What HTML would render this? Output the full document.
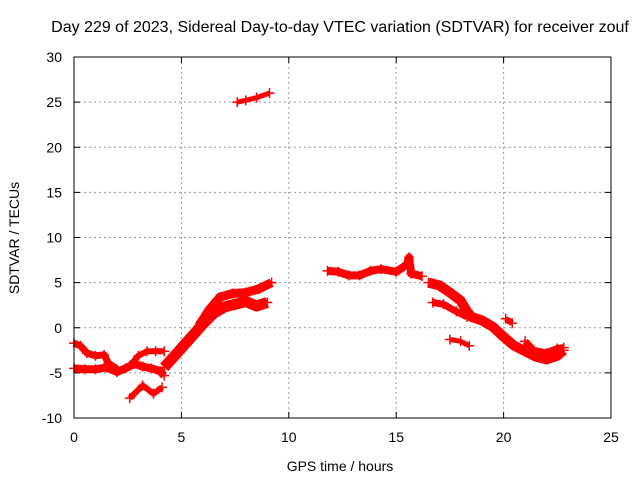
<!DOCTYPE html>
<html><head><meta charset="utf-8"><style>
body{margin:0;background:#fff}
svg{display:block;font-family:"Liberation Sans",sans-serif}
</style></head><body>
<svg id="chart" width="640" height="480">
<rect width="640" height="480" fill="#fff"/>
<text x="340" y="32" font-size="16" text-anchor="middle">Day 229 of 2023, Sidereal Day-to-day VTEC variation (SDTVAR) for receiver zouf</text>
<g id="grid"></g><g id="ticks"></g><g id="series"></g>
<rect x="74" y="57" width="537" height="361" fill="none" stroke="#000" stroke-width="1"/>
<text x="340" y="471" font-size="14" text-anchor="middle">GPS time / hours</text>
<text transform="translate(19,238) rotate(-90)" font-size="14" text-anchor="middle">SDTVAR / TECUs</text>
</svg>
<script>
const xTicks=[0,5,10,15,20,25];
const yTicks=[-10,-5,0,5,10,15,20,25,30];
const trackA=[[0,-4.5],[0.5,-4.6],[1,-4.6],[1.5,-4.4],[2,-4.9],[2.4,-4.5],[2.8,-4.0],[3.2,-4.3],[3.6,-4.5],[4,-4.8],[4.2,-5.3]];
const trackB=[[0,-1.7],[0.3,-2.0],[0.6,-2.8],[1,-3.1],[1.4,-3.0],[1.6,-3.9],[2,-4.6]];
const trackC=[[2.6,-4.2],[3.0,-3.1],[3.4,-2.6],[3.8,-2.6],[4.2,-2.6]];
const trackD=[[2.6,-7.8],[3.2,-6.4],[3.7,-7.3],[4.1,-6.6]];
const trackE=[[4.2,-4.4],[4.8,-2.8],[5.4,-1.2],[6,0.4],[6.5,1.6],[7,2.3],[7.5,2.6],[8,2.9],[8.5,2.4],[9,2.8]];
const trackF=[[5.8,0.2],[6.3,2.0],[6.8,3.4],[7.4,3.8],[8,3.9],[8.6,4.3],[9.2,5.0]];
const trackG=[[7.6,25],[8,25.2],[8.5,25.5],[9.1,26]];
const trackH=[[11.8,6.3],[12.3,6.2],[12.8,5.8],[13.3,5.8],[13.8,6.3],[14.3,6.5],[15,6.2],[15.5,7.0],[15.6,7.8],[15.7,6.0],[16.2,5.7]];
const trackI=[[16.5,5],[17,4.7],[17.5,3.9],[18,3.0],[18.3,1.8],[18.5,1.2],[19,0.8],[19.5,0.1],[20,-1],[20.5,-2],[21,-2.6],[21.5,-3.2],[22,-3.5],[22.5,-3.1],[22.8,-2.5]];
const trackJ=[[16.7,2.8],[17.2,2.6],[17.8,1.8],[18.3,1.2]];
const trackK=[[17.5,-1.3],[18,-1.5],[18.4,-2.0]];
const trackL=[[20.1,1.0],[20.4,0.5]];
const trackM=[[21,-1.5],[21.4,-2.5],[22,-2.8],[22.5,-2.3],[22.8,-2.2]];
const tracks=[trackA,trackB,trackC,trackD,trackE,trackF,trackG,trackH,trackI,trackJ,trackK,trackL,trackM];
const widths=[8,7,6,6,11,9,5,8,10,7,5,6,7];
const X=h=>74+h*537/25, Y=v=>418-(v+10)*361/40;
const NS="http://www.w3.org/2000/svg";
function mk(t,a,p){const e=document.createElementNS(NS,t);for(const k in a)e.setAttribute(k,a[k]);p.appendChild(e);return e;}
const grid=document.getElementById('grid'),ticks=document.getElementById('ticks'),ser=document.getElementById('series');
xTicks.forEach(t=>{const x=X(t);
 if(t>0&&t<25){const l=mk('line',{x1:x,x2:x,y1:57,y2:418,stroke:'#999','stroke-dasharray':'2,3'},grid);
 
 }
 mk('line',{x1:x,x2:x,y1:418,y2:412,stroke:'#000'},ticks);mk('line',{x1:x,x2:x,y1:57,y2:63,stroke:'#000'},ticks);
 const tx=mk('text',{x:x,y:442,'font-size':14,'text-anchor':'middle'},ticks);tx.textContent=t;
 
 });
yTicks.forEach(t=>{const y=Y(t);
 if(t>-10&&t<30){const l=mk('line',{x1:74,x2:611,y1:y,y2:y,stroke:'#999','stroke-dasharray':'2,3'},grid);
 
 }
 mk('line',{x1:74,x2:80,y1:y,y2:y,stroke:'#000'},ticks);mk('line',{x1:605,x2:611,y1:y,y2:y,stroke:'#000'},ticks);
 const tx=mk('text',{x:62,y:y+5,'font-size':14,'text-anchor':'end'},ticks);tx.textContent=t;
 
 });
tracks.forEach((tr,i)=>{
 const pl=mk('polyline',{points:tr.map(p=>X(p[0])+','+Y(p[1])).join(' '),fill:'none',stroke:'#f00','stroke-width':widths[i],'stroke-linejoin':'round','stroke-linecap':'butt'},ser);
 
 
 tr.forEach(p=>{const x=X(p[0]),y=Y(p[1]);
  const m=mk('path',{d:`M${x-5},${y}H${x+5}M${x},${y-5}V${y+5}`,stroke:'#f00','stroke-width':1.5},ser);
  
  });
});
</script>
</body></html>
